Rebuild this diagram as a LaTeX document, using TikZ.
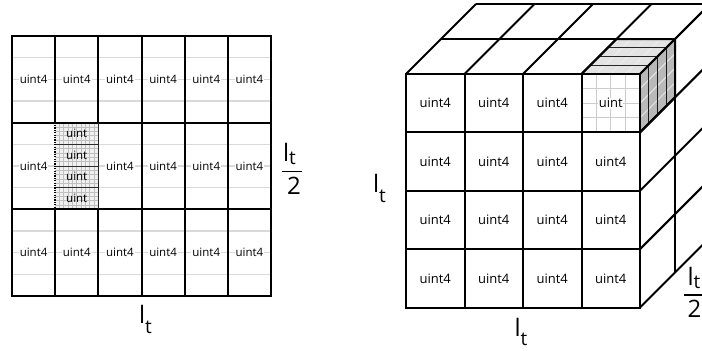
\documentclass[tikz,border=0pt]{standalone}
\usepackage{fontspec}
\setmainfont{Open Sans}
% l with a lowered subscript t; the argument is how far the t drops
\newcommand\ltsym[1]{l\raisebox{-#1}{\fontsize{19}{19}\selectfont t}}
\begin{document}
\begin{tikzpicture}[x=1pt,y=-1pt,
  frame/.style={line width=2pt, black},
  guide/.style={line width=1.4pt, gray!30},
  fine/.style={line width=0.7pt, gray!50},
  cell/.style={fill=white, inner sep=1pt, font=\fontsize{11.5}{12}\selectfont},
  subcell/.style={inner sep=0.5pt, font=\fontsize{11.5}{12}\selectfont},
  cubecell/.style={inner sep=1pt, font=\fontsize{13}{14}\selectfont},
  dim/.style={inner sep=0pt, font=\fontsize{24}{25}\selectfont},
  fracbar/.style={line width=1.3pt, black},
]
\useasboundingbox (0,0) rectangle (702,351);

% ================= flat layout: 6 x 3 blocks =================
% light quarter lines inside every block row
\foreach \k in {1,2,3,5,6,7,9,10,11}
  \draw[guide] (12,{36+\k*21.6667}) -- (271,{36+\k*21.6667});

% the expanded block: fine grid, split into four sub-blocks
\begin{scope}
  \clip (55.1667,122.6667) rectangle (98.3333,209.3333);
  \fill[gray!12] (55.1667,122.6667) rectangle (98.3333,209.3333);
  \foreach \i in {1,...,9}
    \draw[fine] ({55.1667+\i*4.3167},122.6667) -- ++(0,86.6667);
  \foreach \j in {1,...,19}
    \draw[fine] (55.1667,{122.6667+\j*4.3333}) -- ++(43.1667,0);
\end{scope}
\foreach \j in {1,2,3}
  \draw[line width=1pt, gray!35!black] (55.1667,{122.6667+\j*21.6667}) -- ++(43.1667,0);
\foreach \k in {0,...,3}
  \node[subcell] (sub-\k) at (76.75,{122.6667+(\k+0.5)*21.6667}) {uint};

% block labels
\foreach \c in {0,...,5}{
  \foreach \r in {0,1,2}{
    \pgfmathtruncatemacro\hole{(\c==1)&&(\r==1)}
    \ifnum\hole=0
      \node[cell] (g-\c-\r) at ({12+(\c+0.5)*43.1667},{36+(\r+0.5)*86.6667}) {uint4};
    \fi
  }
}

% block borders
\foreach \r in {1,2}
  \draw[frame] (12,{36+\r*86.6667}) -- (271,{36+\r*86.6667});
\foreach \c in {3,4,5}
  \draw[frame] ({12+\c*43.1667},36) -- ({12+\c*43.1667},296);
\foreach \c in {1,2}{
  \draw[frame] ({12+\c*43.1667},36) -- ({12+\c*43.1667},122.6667);
  \draw[frame] ({12+\c*43.1667},209.3333) -- ({12+\c*43.1667},296);
}
\draw[line width=1.7pt, dash pattern=on 1.2pt off 1.2pt] (55.1667,122.6667) -- (55.1667,209.3333);
\draw[line width=0.9pt, gray!30!black] (98.3333,122.6667) -- (98.3333,209.3333);
\draw[frame] (12,36) rectangle (271,296);

% dimensions
\node[dim] (flat-w) at (145.5,319.5) {\ltsym{10pt}};
\node[dim] (flat-hn) at (289.5,153.5) {\ltsym{3pt}};
\coordinate (flat-b1) at (282,171.7);
\coordinate (flat-b2) at (302,171.7);
\draw[fracbar] (flat-b1) -- (flat-b2);
\node[dim] (flat-hd) at (294,186) {2};

% ================= cube: 4 x 4 x 2 blocks =================
% expanded block, front face
\foreach \k in {1,2,3}{
  \draw[line width=1.2pt, gray!40] ({581.5+\k*14.625},74) -- ++(0,58.375);
  \draw[line width=1.2pt, gray!40] (581.5,{74+\k*14.5938}) -- ++(58.5,0);
}
% expanded block, top face
\fill[gray!22] (581.5,74) -- (640,74) -- (675,39) -- (616.5,39) -- cycle;
\foreach \k in {1,2,3}
  \draw[line width=1pt, white!85!gray] ({581.5+\k*14.625},74) -- ++(35,-35);
\foreach \k in {1,2,3}
  \draw[line width=1.2pt, gray!30!black] ({581.5+\k*8.75},{74-\k*8.75}) -- ++(58.5,0);
% expanded block, side face
\fill[gray!55] (640,74) -- (675,39) -- (675,97.375) -- (640,132.375) -- cycle;
\foreach \k in {1,2,3}
  \draw[line width=1pt, white!80!gray] (640,{74+\k*14.5938}) -- ++(35,-35);
\foreach \k in {1,2,3}
  \draw[line width=1.2pt, gray!20!black] ({640+\k*8.75},{74-\k*8.75}) -- ++(0,58.375);

% front face labels
\foreach \c in {0,...,3}{
  \foreach \r in {0,...,3}{
    \pgfmathtruncatemacro\hole{(\c==3)&&(\r==0)}
    \ifnum\hole=0
      \node[cubecell] (q-\c-\r) at ({406+(\c+0.5)*58.5},{74+(\r+0.5)*58.375}) {uint4};
    \fi
  }
}
\node[cubecell, fill=white, inner sep=0.5pt] (q-3-0) at (610.75,103.2) {uint};

% front face grid
\draw[frame] (406,74) rectangle (640,307.5);
\foreach \c in {1,2,3}
  \draw[frame] ({406+\c*58.5},74) -- ++(0,233.5);
\foreach \r in {1,2,3}
  \draw[frame] (406,{74+\r*58.375}) -- ++(234,0);
% top face
\foreach \k in {1,2}
  \draw[frame] ({406+35*\k},{74-35*\k}) -- ++(234,0);
\foreach \c in {0,...,4}
  \draw[frame] ({406+58.5*\c},74) -- ++(70,-70);
% side face
\foreach \k in {1,2}
  \draw[frame] ({640+35*\k},{74-35*\k}) -- ++(0,233.5);
\foreach \r in {0,...,4}
  \draw[frame] (640,{74+58.375*\r}) -- ++(70,-70);
% outline of the expanded block
\draw[frame, line join=round] (581.5,74) -- (616.5,39) -- (675,39) -- (675,97.375) -- (640,132.375);

% dimensions
\node[dim] (cube-h) at (379.5,188) {\ltsym{10pt}};
\node[dim] (cube-w) at (521,332) {\ltsym{9pt}};
\node[dim] (cube-dn) at (694,278) {\ltsym{3pt}};
\coordinate (cube-b1) at (684,295);
\coordinate (cube-b2) at (702,295);
\draw[fracbar] (cube-b1) -- (cube-b2);
\node[dim] (cube-dd) at (694.5,308.5) {2};
\end{tikzpicture}
\end{document}
